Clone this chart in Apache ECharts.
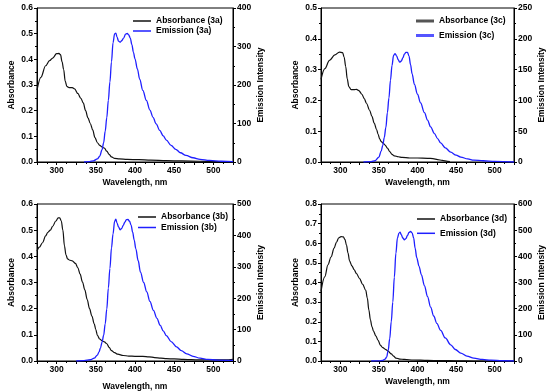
<!DOCTYPE html>
<html>
<head>
<meta charset="utf-8">
<script src="https://cdn.jsdelivr.net/npm/echarts@6/dist/echarts.min.js"></script>
<style>html,body{margin:0;padding:0;background:#fff}#c{width:550px;height:392px}</style>
</head>
<body>
<div id="c"></div>
<script>
// ---- data: [wavelength nm, value] ----
var abs3a = [[275,0.28],[280,0.33],[286,0.375],[291,0.395],[295,0.405],[300,0.422],[303,0.423],[305,0.418],[307,0.39],[309,0.36],[311,0.315],[313,0.295],[316,0.29],[320,0.29],[323,0.285],[327,0.267],[331,0.248],[334,0.23],[337,0.2],[340,0.172],[343,0.15],[346,0.125],[349,0.095],[352,0.075],[355,0.065],[358,0.058],[361,0.054],[364,0.042],[367,0.03],[370,0.02],[374,0.014],[380,0.012],[390,0.01],[405,0.009],[420,0.007],[440,0.005],[460,0.004],[482,0.003],[500,0.002],[525,0.001]];
var em3a = [[335,0],[342,1],[347,3],[352,8],[355,15],[358,32],[360,50],[362,80],[364,115],[366,160],[368,208],[370,260],[372,310],[374,333],[375.5,335],[377,325],[379,314],[381,311],[383,315],[385.5,322],[388,332],[390,334],[392,330],[394,322],[396,305],[398,285],[400,268],[403,242],[406,215],[410,186],[414.5,160],[419,135],[423,116],[427,99],[431.5,82],[436,68],[440,57],[446,43],[452,33],[458,24],[465,17],[474,11],[483,7],[495,4],[510,2],[525,1]];
var abs3c = [[275,0.268],[280,0.303],[286,0.33],[293,0.348],[299,0.357],[303,0.355],[305,0.34],[307,0.31],[309,0.27],[311,0.245],[314,0.235],[318,0.235],[321,0.236],[324,0.232],[328,0.22],[331,0.206],[334,0.19],[338,0.168],[341,0.148],[344,0.126],[347,0.105],[349,0.09],[351,0.075],[353,0.066],[356,0.06],[358,0.055],[361,0.045],[364,0.034],[367,0.025],[370,0.02],[375,0.017],[380,0.015],[390,0.013],[400,0.013],[413,0.012],[420,0.011],[426,0.008],[432,0.005],[439,0.002],[442,0.001]];
var em3c = [[330,0],[340,0.5],[345,2],[350,8],[353,18],[355,27],[357,40],[359,56],[361,80],[363,104],[365,133],[367,157],[369,173],[371,176],[373,172],[375,166],[377,162],[379,164],[381,169],[383,175],[385,178],[387,178],[389,172],[391,158],[393,143],[396,126],[400,110],[404,96],[409,80],[413,68],[417,57],[422,46],[426,38],[430,31],[436,23],[443,16],[450,11],[456,8],[465,5],[473,3],[485,2],[500,1],[525,0]];
var abs3b = [[275,0.42],[278,0.435],[282,0.452],[286,0.478],[289,0.492],[292,0.5],[295,0.515],[299,0.535],[302,0.547],[304,0.547],[306,0.535],[308,0.5],[310,0.44],[312,0.405],[314,0.39],[317,0.385],[320,0.383],[324,0.373],[327,0.357],[330,0.332],[333,0.302],[336,0.272],[339,0.235],[342,0.2],[345,0.172],[348,0.142],[350,0.12],[352,0.098],[355,0.084],[358,0.077],[361,0.073],[364,0.066],[367,0.052],[370,0.04],[374,0.032],[378,0.026],[385,0.021],[392,0.019],[400,0.018],[410,0.018],[418,0.016],[425,0.013],[433,0.011],[440,0.009],[450,0.008],[462,0.006],[472,0.005],[483,0.004],[495,0.004],[505,0.004],[515,0.004],[525,0.006]];
var em3b = [[325,0],[335,1],[343,4],[348,9],[352,19],[354,28],[356,42],[358,60],[360,82],[362,118],[364,165],[366,232],[368,295],[370,360],[372,405],[374,445],[375.5,452],[377,440],[379,427],[381,418],[383,422],[385,432],[387,442],[389,450],[391,451],[393,445],[395,433],[397,410],[399,385],[401,358],[404,320],[407,283],[411,250],[415,220],[419,190],[423.5,161],[428,136],[432,114],[436,96],[440,81],[446,62],[453,45],[459,33],[466,23],[474,15],[483,9],[493,5],[505,3],[525,2]];
var abs3d = [[275,0.355],[280,0.43],[284,0.49],[288,0.53],[292,0.575],[295,0.605],[298,0.628],[301,0.634],[304,0.632],[306,0.62],[308,0.59],[310,0.55],[312,0.51],[315,0.485],[318,0.465],[321,0.445],[325,0.42],[329,0.39],[333,0.36],[335,0.32],[337,0.26],[339,0.21],[341,0.175],[343,0.152],[346,0.128],[349,0.105],[352,0.08],[355,0.068],[359,0.058],[362,0.05],[366,0.036],[369,0.025],[372,0.015],[377,0.01],[383,0.008],[395,0.005],[413,0.003],[430,0.002],[450,0.001],[473,0],[525,0]];
var em3d = [[340,0],[350,0.5],[355,2],[358,7],[360,15],[362,40],[364,85],[366,150],[368,225],[370,320],[372,412],[374,470],[376,489],[377.5,492],[379,483],[381,470],[383,463],[385,468],[387,480],[389,491],[391,495],[393,490],[395,470],[397,430],[399,395],[402,362],[405,330],[409,288],[413,246],[417,206],[421,172],[425,144],[430,117],[436,88],[443,62],[449,44],[456,30],[464,19],[473,11],[484,6],[495,3],[510,1],[525,0]];

// axis ranges / tick labels
var xRange = [275, 525];
var absMax = [0.6, 0.5, 0.6, 0.8];
var emMax = [400, 250, 500, 600];
var emStep = [100, 50, 100, 100];
var labels = ['3a', '3c', '3b', '3d'];
var absData = [abs3a, abs3c, abs3b, abs3d];
var emData = [em3a, em3c, em3b, em3d];

var grids = [
  {left: 37, top: 8, width: 196, height: 154},
  {left: 321, top: 8, width: 193, height: 154},
  {left: 37, top: 204, width: 196, height: 158},
  {left: 321, top: 204, width: 193, height: 157}
];
var legendPos = [
  {left: 133, top: 16, gap: 0, h: 1.5},
  {left: 416, top: 16, gap: 4.5, h: 3},
  {left: 138, top: 212, gap: 0.5, h: 1.5},
  {left: 417, top: 214, gap: 4.3, h: 1.5}
];
var xNameGap = [16, 16, 21, 16];

var FONT = 'Liberation Sans, Arial, sans-serif';
var lbl = {color: '#000', fontSize: 8.5, fontWeight: 'bold', fontFamily: FONT};
var axLine = {show: true, lineStyle: {color: '#000', width: 1}};

var option = {
  animation: false,
  backgroundColor: '#fff',
  grid: grids.map(function (g) {
    return Object.assign({show: true, borderColor: '#000', borderWidth: 1, backgroundColor: 'transparent'}, g);
  }),
  xAxis: [], yAxis: [], series: [], legend: []
};

for (var i = 0; i < 4; i++) {
  option.xAxis.push({
    type: 'value', gridIndex: i, min: xRange[0], max: xRange[1], interval: 25,
    name: 'Wavelength, nm', nameLocation: 'middle', nameGap: xNameGap[i],
    nameTextStyle: lbl,
    axisLine: axLine, splitLine: {show: false},
    axisTick: {show: true, inside: false, length: 3, lineStyle: {color: '#000'}},
    minorTick: {show: true, splitNumber: 2, length: 2, lineStyle: {color: '#000'}},
    axisLabel: Object.assign({margin: 4, formatter: function (v) { return v % 50 === 0 ? String(v) : ''; }}, lbl)
  });
  option.yAxis.push({
    type: 'value', gridIndex: i, position: 'left', min: 0, max: absMax[i], interval: 0.1,
    name: 'Absorbance', nameLocation: 'middle', nameGap: 21, nameRotate: 90,
    nameTextStyle: lbl,
    axisLine: axLine, splitLine: {show: false},
    axisTick: {show: true, length: 3, lineStyle: {color: '#000'}},
    minorTick: {show: true, splitNumber: 2, length: 2, lineStyle: {color: '#000'}},
    axisLabel: Object.assign({margin: 4, formatter: function (v) { return v.toFixed(1); }}, lbl)
  });
  option.yAxis.push({
    type: 'value', gridIndex: i, position: 'right', min: 0, max: emMax[i], interval: emStep[i],
    name: 'Emission Intensity', nameLocation: 'middle', nameGap: 23, nameRotate: 90,
    nameTextStyle: lbl,
    axisLine: axLine, splitLine: {show: false},
    axisTick: {show: true, length: 3, lineStyle: {color: '#000'}},
    minorTick: {show: true, splitNumber: 2, length: 2, lineStyle: {color: '#000'}},
    axisLabel: Object.assign({margin: 4}, lbl)
  });
  var nA = 'Absorbance (' + labels[i] + ')';
  var nE = 'Emission (' + labels[i] + ')';
  option.series.push({
    name: nA, type: 'line', xAxisIndex: i, yAxisIndex: 2 * i, data: absData[i],
    showSymbol: false, symbol: 'none', smooth: 0.35, smoothMonotone: 'x',
    lineStyle: {color: '#111', width: 1.2}, itemStyle: {color: '#111'}
  });
  option.series.push({
    name: nE, type: 'line', xAxisIndex: i, yAxisIndex: 2 * i + 1, data: emData[i],
    showSymbol: false, symbol: 'none', smooth: 0.35, smoothMonotone: 'x',
    lineStyle: {color: '#1f1fff', width: 1.3}, itemStyle: {color: '#1f1fff'}
  });
  var lp = legendPos[i];
  var legData = [{name: nA}, {name: nE}];
  if (i === 1) {
    legData = [{name: nA, itemStyle: {color: '#555'}}, {name: nE, itemStyle: {color: '#5555ff'}}];
  }
  option.legend.push({
    orient: 'vertical', left: lp.left, top: lp.top, padding: 0,
    itemWidth: 18, itemHeight: lp.h, itemGap: lp.gap, icon: 'rect',
    selectedMode: false, data: legData,
    textStyle: {color: '#000', fontSize: 8.5, fontWeight: 'bold', fontFamily: FONT, lineHeight: 10}
  });
}

var chart = echarts.init(document.getElementById('c'), null, {renderer: 'canvas'});
chart.setOption(option);
</script>
</body>
</html>
